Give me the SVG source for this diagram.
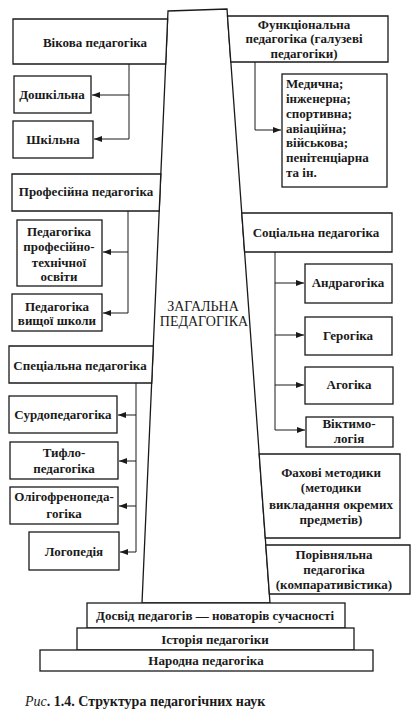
<svg xmlns="http://www.w3.org/2000/svg" width="416" height="713" viewBox="0 0 416 713">
<style>
.b{fill:#fff;stroke:#1a1a1a;stroke-width:1.3}
.t{font-family:"Liberation Serif","DejaVu Serif",serif;font-size:13px;font-weight:bold;fill:#1a1a1a;text-anchor:middle}
.l{text-anchor:start}
.c{fill:none;stroke:#1a1a1a;stroke-width:1}
.m{font-family:"Liberation Serif","DejaVu Serif",serif;font-size:14px;fill:#1a1a1a;text-anchor:middle}
</style>
<defs>
<marker id="ah" markerWidth="8" markerHeight="6" refX="8" refY="3" orient="auto" markerUnits="userSpaceOnUse">
<path d="M0,0 L8,3 L0,6 Z" fill="#1a1a1a"/>
</marker>
</defs>
<rect width="416" height="713" fill="#fff"/>
<g id="column">
<polygon class="b" points="168,11 227,9 270,603 142,603"/>
<text class="m" x="203" y="311">ЗАГАЛЬНА</text>
<text class="m" x="204" y="326">ПЕДАГОГІКА</text>
</g>
<g id="vikova"><polygon class="b" points="13,19 167.6,19 165.7,64 13,64"/><text class="t" x="95" y="47">Вікова педагогіка</text></g>
<g id="doshkilna"><rect class="b" x="14" y="76" width="77" height="37"/><text class="t" x="52" y="99">Дошкільна</text></g>
<g id="shkilna"><rect class="b" x="13" y="121" width="80" height="37"/><text class="t" x="53" y="144">Шкільна</text></g>
<g id="profesiyna"><polygon class="b" points="12,174 160.8,174 159.2,211 12,211"/><text class="t" x="86" y="196">Професійна педагогіка</text></g>
<g id="proftech"><rect class="b" x="17" y="220" width="85" height="66"/>
<text class="t" x="59" y="236">Педагогіка</text><text class="t" x="59" y="251">професійно-</text><text class="t" x="59" y="267">технічної</text><text class="t" x="59" y="281">освіти</text></g>
<g id="vyshcha"><rect class="b" x="12" y="294" width="90" height="37"/>
<text class="t" x="57" y="311">Педагогіка</text><text class="t" x="57" y="325">вищої школи</text></g>
<g id="spetsialna"><polygon class="b" points="9,346 153.3,346 151.7,383 9,383"/><text class="t" x="80" y="370">Спеціальна педагогіка</text></g>
<g id="surdo"><rect class="b" x="9" y="396" width="108" height="37"/><text class="t" x="63" y="419">Сурдопедагогіка</text></g>
<g id="tyflo"><rect class="b" x="10" y="442" width="108" height="37"/><text class="t" x="64" y="457">Тифло-</text><text class="t" x="64" y="473">педагогіка</text></g>
<g id="oligo"><rect class="b" x="10" y="487" width="108" height="37"/><text class="t" x="64" y="501">Олігофренопеда-</text><text class="t" x="64" y="518">гогіка</text></g>
<g id="logo"><rect class="b" x="29" y="532" width="90" height="38"/><text class="t" x="74" y="556">Логопедія</text></g>
<g id="funktsionalna"><polygon class="b" points="227.5,16 388,16 388,62 230.8,62"/>
<text class="t" x="304" y="29">Функціональна</text><text class="t" x="304" y="43">педагогіка (галузеві</text><text class="t" x="304" y="58">педагогіки)</text></g>
<g id="medychna"><rect class="b" x="282" y="74" width="105" height="113"/>
<text class="t l" x="286" y="88">Медична;</text><text class="t l" x="286" y="103">інженерна;</text><text class="t l" x="286" y="118">спортивна;</text><text class="t l" x="286" y="133">авіаційна;</text><text class="t l" x="286" y="147">військова;</text><text class="t l" x="286" y="162">пенітенціарна</text><text class="t l" x="286" y="177">та ін.</text></g>
<g id="sotsialna"><polygon class="b" points="241.8,213 392,213 392,252 244.6,252"/><text class="t" x="316" y="237">Соціальна педагогіка</text></g>
<g id="andra"><rect class="b" x="305" y="264" width="87" height="39"/><text class="t" x="348" y="287">Андрагогіка</text></g>
<g id="gero"><rect class="b" x="305" y="317" width="87" height="38"/><text class="t" x="348" y="340">Герогіка</text></g>
<g id="agog"><rect class="b" x="305" y="367" width="88" height="37"/><text class="t" x="349" y="389">Агогіка</text></g>
<g id="viktymo"><rect class="b" x="306" y="417" width="87" height="30"/><text class="t" x="349" y="428">Віктимо-</text><text class="t" x="349" y="443">логія</text></g>
<g id="fakhovi"><polygon class="b" points="259.2,454 400,454 400,538 265.3,538"/>
<text class="t" x="331" y="477">Фахові методики</text><text class="t" x="331" y="492">(методики</text><text class="t" x="331" y="509">викладання окремих</text><text class="t" x="331" y="524">предметів)</text></g>
<g id="porivnialna"><polygon class="b" points="265.8,545 410,545 410,594 269.4,594"/>
<text class="t" x="334" y="559">Порівняльна</text><text class="t" x="334" y="574">педагогіка</text><text class="t" x="334" y="589">(компаративістика)</text></g>
<g id="dosvid"><rect class="b" x="87" y="603" width="258" height="25"/><text class="t" x="215" y="620">Досвід педагогів — новаторів сучасності</text></g>
<g id="istoriia"><rect class="b" x="77" y="628" width="277" height="22"/><text class="t" x="215" y="644">Історія педагогіки</text></g>
<g id="narodna"><rect class="b" x="40" y="650" width="333" height="21"/><text class="t" x="206" y="665">Народна педагогіка</text></g>
<g id="connectors">
<path class="c" d="M129,64 V139"/>
<path class="c" d="M129,95 H92" marker-end="url(#ah)"/>
<path class="c" d="M129,139 H94" marker-end="url(#ah)"/>
<path class="c" d="M128,211 V313"/>
<path class="c" d="M128,252 H103" marker-end="url(#ah)"/>
<path class="c" d="M128,313 H103" marker-end="url(#ah)"/>
<path class="c" d="M136,383 V552"/>
<path class="c" d="M136,415 H118" marker-end="url(#ah)"/>
<path class="c" d="M136,461 H119" marker-end="url(#ah)"/>
<path class="c" d="M136,506 H119" marker-end="url(#ah)"/>
<path class="c" d="M136,552 H120" marker-end="url(#ah)"/>
<path class="c" d="M255,62 V130 H281" marker-end="url(#ah)"/>
<path class="c" d="M275,252 V430"/>
<path class="c" d="M275,283 H304" marker-end="url(#ah)"/>
<path class="c" d="M275,335 H304" marker-end="url(#ah)"/>
<path class="c" d="M275,385 H304" marker-end="url(#ah)"/>
<path class="c" d="M275,430 H305" marker-end="url(#ah)"/>
</g>
<text x="25" y="706" font-family="Liberation Serif, serif" font-size="14" fill="#1a1a1a"><tspan font-style="italic">Рис</tspan><tspan font-weight="bold">. 1.4. Структура педагогічних наук</tspan></text>
</svg>
